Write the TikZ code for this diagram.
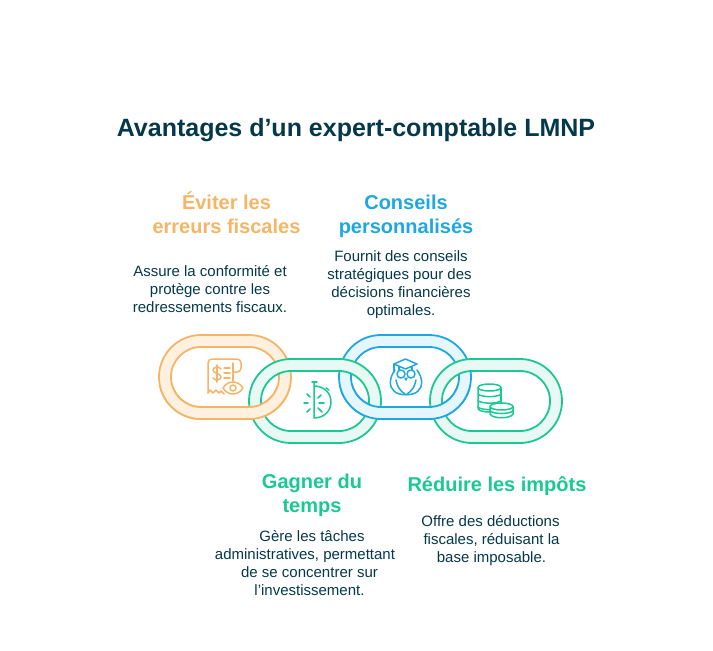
\documentclass[tikz,border=0pt]{standalone}
\usepackage{fontspec}
\setmainfont{Liberation Sans}
\definecolor{inkdark}{HTML}{04384A}
\definecolor{orangeline}{HTML}{F5B566}
\definecolor{orangefill}{HTML}{FFF0E0}
\definecolor{blueline}{HTML}{1EA7E1}
\definecolor{bluefill}{HTML}{E6F6FE}
\definecolor{greenline}{HTML}{19C993}
\definecolor{greenfill}{HTML}{E8F8F2}
\tikzset{
every node/.append style={align=center, inner sep=0pt},
maintitle/.style={font=\bfseries\fontsize{25}{30}\selectfont, text=inkdark},
heading/.style={font=\bfseries\fontsize{20}{24}\selectfont},
bodytext/.style={font=\fontsize{15}{18}\selectfont, text=inkdark},
icon/.style={line width=1.5pt, line cap=round, line join=round},
}
% one link of the chain, centred on (#1,#2)
\newcommand{\linkring}[4]{%
  \fill[#4, even odd rule, rounded corners=42pt] (#1-66,#2-42) rectangle (#1+66,#2+42)
    [rounded corners=30pt] (#1-54,#2-30) rectangle (#1+54,#2+30);
  \draw[#3, line width=1.8pt, rounded corners=42pt] (#1-66,#2-42) rectangle (#1+66,#2+42);
  \draw[#3, line width=1.8pt, rounded corners=30pt] (#1-54,#2-30) rectangle (#1+54,#2+30);
}
\begin{document}
\begin{tikzpicture}[x=1pt, y=-1pt]
  \useasboundingbox (0,0) rectangle (713,651);

  \node[maintitle] (title) at (356,130) {Avantages d’un expert-comptable LMNP};

  % Headings
  \node[heading, text=orangeline] (eviter) at (226.5,213) {Éviter les\\erreurs fiscales};
  \node[heading, text=blueline] (conseils) at (406,216.5) {Conseils\\personnalisés};
  \node[heading, text=greenline] (gagner) at (312,495) {Gagner du\\temps};
  \node[heading, text=greenline] (reduire) at (497,486) {Réduire les impôts};

  % Descriptions
  \node[bodytext] (eviterdesc) at (210,289) {Assure la conformité et\\protège contre les\\redressements fiscaux.};
  \node[bodytext] (conseilsdesc) at (399.5,285) {\hspace*{3pt}Fournit des conseils\\stratégiques pour des\\\hspace*{3pt}décisions financières\\\hspace*{3pt}optimales.};
  \node[bodytext] (gagnerdesc) at (305,563) {\hspace*{14pt}Gère les tâches\\administratives, permettant\\\hspace*{9pt}de se concentrer sur\\\hspace*{9pt}l’investissement.};
  \node[bodytext] (reduiredesc) at (490.5,541) {Offre des déductions\\\hspace*{2pt}fiscales, réduisant la\\\hspace*{2pt}base imposable.};

  % Chain
  \linkring{225}{377}{orangeline}{orangefill}
  \linkring{405}{377}{blueline}{bluefill}
  \linkring{315}{401}{greenline}{greenfill}
  \linkring{496}{401}{greenline}{greenfill}
  \begin{scope}
    \clip (0,385) rectangle (713,440);
    \linkring{225}{377}{orangeline}{orangefill}
    \linkring{405}{377}{blueline}{bluefill}
  \end{scope}

  % Icon of link 1
  \begin{scope}[icon, orangeline]
    \draw[rounded corners=4pt] (208,393) -- (208,359) -- (241,359) -- (241,372) -- (233,372);
    \draw (233,363) -- (233,381);
    \draw (208,393) -- (210,390) -- (213,393) -- (216,390) -- (219,393) -- (221,391) -- (224,394);
    \draw (221,369) .. controls (219,366) and (213,367) .. (213,370) .. controls (213,374) and (221,373) .. (221,377) .. controls (221,380) and (215,381) .. (213,378);
    \draw (217,365) -- (217,382);
    \foreach \yy in {368,373,378} \draw (224,\yy) -- (230,\yy);
    \draw (223,388) .. controls (228,380) and (238,380) .. (243,388) .. controls (238,396) and (228,396) .. (223,388) -- cycle;
    \draw (233,388) circle (3pt);
  \end{scope}

  % Icon of link 2
  \begin{scope}[icon, greenline]
    \draw (312,382) -- (317,382);
    \draw (314,382) -- (314,418) .. controls (324,418) and (331,411) .. (331,402) .. controls (331,393) and (324,386) .. (314,386);
    \draw (326,388) -- (329,390);
    \draw (304,403) -- (308,403);
    \draw (307,394) -- (310,397);
    \draw (307,412) -- (310,409);
    \draw (321,395) -- (318,398);
    \draw (319,403) -- (324,403);
    \draw (318,408) -- (322,412);
  \end{scope}

  % Icon of link 3
  \begin{scope}[icon, blueline]
    \draw (394,364) -- (405.5,359) -- (417,364) -- (405.5,369) -- cycle;
    \draw (394,364) -- (394,372);
    \draw (399,367) -- (399,370);
    \draw (412,367) -- (412,370);
    \draw (401,374) circle (4pt);
    \draw (411,374) circle (4pt);
    \draw (405,378) -- (406,380) -- (407,378);
    \draw (395,370) .. controls (389,378) and (389,387) .. (394,391) .. controls (398,396) and (414,396) .. (418,391) .. controls (423,387) and (423,378) .. (417,370);
    \draw (396,380) .. controls (397,386) and (400,391) .. (405,394);
    \draw (416,380) .. controls (415,386) and (412,391) .. (407,394);
  \end{scope}

  % Icon of link 4
  \begin{scope}[icon, greenline]
    \draw (489.5,387.5) ellipse (11.5pt and 3.5pt);
    \draw (478,387.5) -- (478,408) .. controls (478,411) and (484,412) .. (490,412);
    \draw (501,387.5) -- (501,403);
    \foreach \yy in {394,400.5,407} \draw (478,\yy) .. controls (481,\yy+3.5) and (498,\yy+3.5) .. (501,\yy);
    \fill[white] (490,406) rectangle (513,416);
    \draw[fill=white] (501.5,406.5) ellipse (11.5pt and 3.5pt);
    \draw (490,406.5) -- (490,414) .. controls (492,419) and (511,419) .. (513,414) -- (513,406.5);
    \draw (490,410.5) .. controls (492,414.5) and (511,414.5) .. (513,410.5);
  \end{scope}
\end{tikzpicture}
\end{document}
